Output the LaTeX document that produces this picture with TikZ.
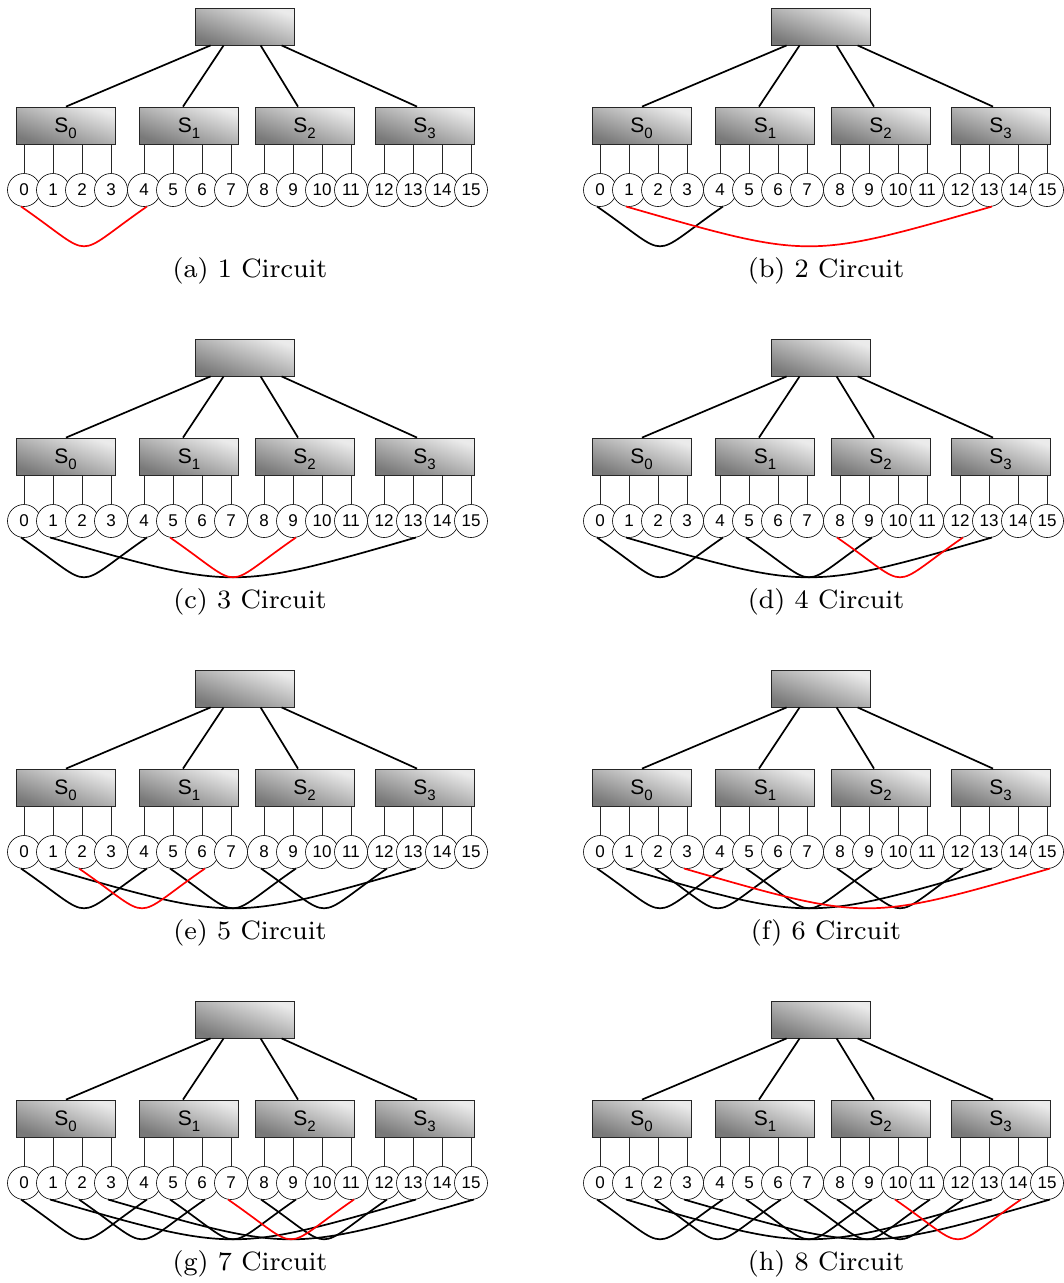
\documentclass[tikz,border=0pt]{standalone}
\usepackage{fontspec}
\newfontfamily\labfont{Liberation Sans}
\newfontfamily\capfont[Extension=.otf]{lmroman8-regular}
\usetikzlibrary{calc}
\tikzset{
  swbox/.style={draw=black!85, line width=0.8pt, top color=gray!16, bottom color=gray!105,
    shading angle=-20, minimum width=99pt, minimum height=37pt, inner sep=0pt,
    font=\labfont\fontsize{21}{21}\selectfont},
  hostnode/.style={circle, draw=black, line width=0.6pt, fill=white, minimum size=33pt,
    inner sep=0pt, font=\labfont\fontsize{17}{17}\selectfont},
  uplink/.style={line width=1.7pt},
  downlink/.style={line width=0.7pt, black!85},
  circuit/.style={line width=1.7pt},
  newcircuit/.style={circuit, red},
  captext/.style={font=\capfont\fontsize{26.5}{30}\selectfont, anchor=base},
}
% one fat-tree fabric: #1 name prefix, #2/#3 shift, #4 caption
\newcommand\drawfabric[4]{%
  \begin{scope}[shift={(#2,#3)}]
    \node[swbox] (#1top) at (244.5,26.5) {};
    \foreach \i/\x in {0/65.5,1/189,2/304.5,3/424.5}
      \node[swbox] (#1s\i) at (\x,125.5)
        {S\smash{\raisebox{-6pt}{\fontsize{15}{15}\selectfont\i}}};
    \draw[uplink] ([xshift=16pt]#1top.south west) -- ([xshift=0.5pt]#1s0.north);
    \draw[uplink] ([xshift=29pt]#1top.south west) -- ([xshift=-6pt]#1s1.north);
    \draw[uplink] ([xshift=66pt]#1top.south west) -- ([xshift=-6.5pt]#1s2.north);
    \draw[uplink] ([xshift=87pt]#1top.south west) -- ([xshift=-7.5pt]#1s3.north);
    \foreach \i in {0,...,15} {
      \pgfmathtruncatemacro\g{int(\i/4)}
      \pgfmathsetmacro\xx{24+120*\g+29*mod(\i,4)}
      \node[hostnode] (#1n\i) at (\xx,190) {\i};
      \draw[downlink] (#1n\i.north) -- (#1n\i.north |- #1s\g.south);
    }
    \node[captext] (#1cap) at (250,277.5) {#4};
  \end{scope}}
% a circuit between hosts #2 and #3 of fabric #1, style #4
\newcommand\circuitlink[4]{%
  \draw[#4] (#1n#2.-100) .. controls ($(#1n#2.-100)!0.45!(#1n#3.-80)+(20pt,-53pt)$)
    and ($(#1n#3.-80)!0.45!(#1n#2.-100)+(-20pt,-53pt)$) .. (#1n#3.-80);}
\begin{document}
\begin{tikzpicture}[x=1pt,y=-1pt]
  \useasboundingbox (0,0) rectangle (1064,1283);
  \drawfabric{a}{0}{0}{(a) 1 Circuit}
  \circuitlink{a}{0}{4}{newcircuit}

  \drawfabric{b}{576}{0}{(b) 2 Circuit}
  \circuitlink{b}{0}{4}{circuit}
  \circuitlink{b}{1}{13}{newcircuit}

  \drawfabric{c}{0}{331}{(c) 3 Circuit}
  \foreach \p/\q in {0/4,1/13} {\circuitlink{c}{\p}{\q}{circuit}}
  \circuitlink{c}{5}{9}{newcircuit}

  \drawfabric{d}{576}{331}{(d) 4 Circuit}
  \foreach \p/\q in {0/4,1/13,5/9} {\circuitlink{d}{\p}{\q}{circuit}}
  \circuitlink{d}{8}{12}{newcircuit}

  \drawfabric{e}{0}{662}{(e) 5 Circuit}
  \foreach \p/\q in {0/4,1/13,5/9,8/12} {\circuitlink{e}{\p}{\q}{circuit}}
  \circuitlink{e}{2}{6}{newcircuit}

  \drawfabric{f}{576}{662}{(f) 6 Circuit}
  \foreach \p/\q in {0/4,1/13,5/9,8/12,2/6} {\circuitlink{f}{\p}{\q}{circuit}}
  \circuitlink{f}{3}{15}{newcircuit}

  \drawfabric{g}{0}{993}{(g) 7 Circuit}
  \foreach \p/\q in {0/4,1/13,5/9,8/12,2/6,3/15} {\circuitlink{g}{\p}{\q}{circuit}}
  \circuitlink{g}{7}{11}{newcircuit}

  \drawfabric{h}{576}{993}{(h) 8 Circuit}
  \foreach \p/\q in {0/4,1/13,5/9,8/12,2/6,3/15,7/11} {\circuitlink{h}{\p}{\q}{circuit}}
  \circuitlink{h}{10}{14}{newcircuit}
\end{tikzpicture}
\end{document}
